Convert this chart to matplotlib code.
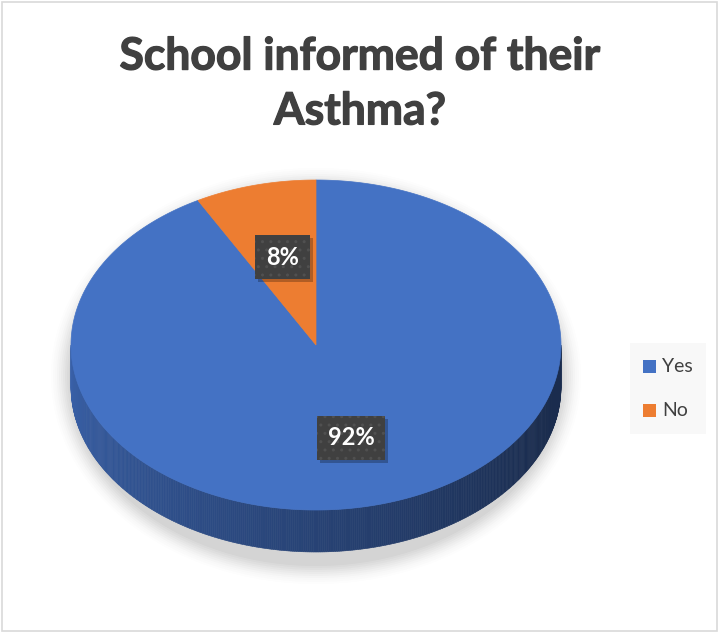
import numpy as np
import matplotlib.pyplot as plt
import matplotlib.patheffects as pe
from matplotlib.patches import Polygon, Rectangle, Ellipse
from matplotlib.colors import to_rgb

plt.rcParams['font.family'] = ['Lato', 'DejaVu Sans']

title = "School informed of their\nAsthma?"
categories = ["Yes", "No"]
values = [92, 8]
colors = ["#4472C4", "#ED7D31"]
label_texts = ["92%", "8%"]

W, H = 720, 633
fig = plt.figure(figsize=(W / 100, H / 100), dpi=100)
ax = fig.add_axes([0, 0, 1, 1])
ax.set_xlim(0, W)
ax.set_ylim(H, 0)
ax.axis("off")

# chart frame
ax.add_patch(Rectangle((1.5, 1.5), W - 5, H - 4, fill=False, ec="#d9d9d9", lw=1.2))

# 3D pie geometry (pixel coordinates, y downward)
cx, cy, rx, ry, depth = 316, 345, 245, 165, 42


def pt(phi_deg, r=1.0, dy=0.0):
    p = np.radians(phi_deg)
    return cx + rx * r * np.sin(p), cy - ry * r * np.cos(p) + dy

# soft shadow behind the pie
for i, a in enumerate(np.linspace(0.06, 0.01, 10)):
    ax.add_patch(Ellipse((cx, cy + depth / 2 + 10), 2 * rx + 4 + i * 4, 2 * ry + depth + 8 + i * 4,
                         fc="#7f7f7f", ec="none", alpha=a, zorder=1))

# slice angles measured clockwise from 12 o'clock
total = sum(values)
bounds = np.concatenate([[0], np.cumsum(values) / total * 360])

# side wall of the front half, drawn as shaded strips
side_base = np.array(to_rgb("#3b64ae"))
side_dark = np.array(to_rgb("#1a2c4e"))
phis = np.linspace(90, 270, 361)
for a0, a1 in zip(phis[:-1], phis[1:]):
    k = np.searchsorted(bounds, (a0 + a1) / 2) - 1
    x0, y0 = pt(a0)
    x1, y1 = pt(a1)
    t = (270 - (a0 + a1) / 2) / 180  # 0 at left edge, 1 at right edge
    shade = np.clip(0.05 + 1.1 * t, 0, 1)
    base = np.array(to_rgb(colors[k])) * 0.78 if k != 0 else side_base
    c = base * (1 - shade) + side_dark * shade
    ax.add_patch(Polygon([(x0, y0), (x1, y1), (x1, y1 + depth), (x0, y0 + depth)],
                         closed=True, fc=c, ec=c, lw=0.4, zorder=2))

# top faces of the slices
for k, (a0, a1) in enumerate(zip(bounds[:-1], bounds[1:])):
    arc = np.linspace(a0, a1, max(int(a1 - a0) * 2, 4))
    verts = [(cx, cy)] + [pt(a) for a in arc]
    ax.add_patch(Polygon(verts, closed=True, fc=colors[k], ec=colors[k], lw=0.5, zorder=3))

# data labels
label_r = [0.58, 0.55]
labels = []
for k, (a0, a1) in enumerate(zip(bounds[:-1], bounds[1:])):
    x, y = pt((a0 + a1) / 2, label_r[k])
    labels.append(ax.text(x, y, label_texts[k], fontsize=17, fontweight="bold", color="white",
                          ha="center", va="center", zorder=5,
                          bbox=dict(boxstyle="square,pad=0.45", fc="#404040", ec="#505050",
                                    lw=0, hatch="..")))

# drop shadows under the label boxes
fig.canvas.draw()
inv = ax.transData.inverted()
for t in labels:
    ext = t.get_bbox_patch().get_window_extent()
    (x0, y0), (x1, y1) = inv.transform([[ext.x0, ext.y0], [ext.x1, ext.y1]])
    ax.add_patch(Rectangle((min(x0, x1) + 3, min(y0, y1) + 3), abs(x1 - x0), abs(y1 - y0),
                           fc="black", ec="none", alpha=0.25, zorder=4))

# title
ax.text(360, 84, title, fontsize=32, fontweight="bold", color="#404040",
        ha="center", va="center", linespacing=1.45,
        path_effects=[pe.withStroke(linewidth=0.9, foreground="#404040")])

# legend
ax.add_patch(Rectangle((630, 343), 76, 91, fc="#f8f8f8", ec="none"))
for k, (name, col) in enumerate(zip(categories, colors)):
    yy = 366 + k * 44
    ax.add_patch(Rectangle((643, yy - 6), 13, 13, fc=col, ec="none"))
    ax.text(662, yy, name, fontsize=14, color="#404040", ha="left", va="center")

fig.savefig("out.png", dpi=100)
